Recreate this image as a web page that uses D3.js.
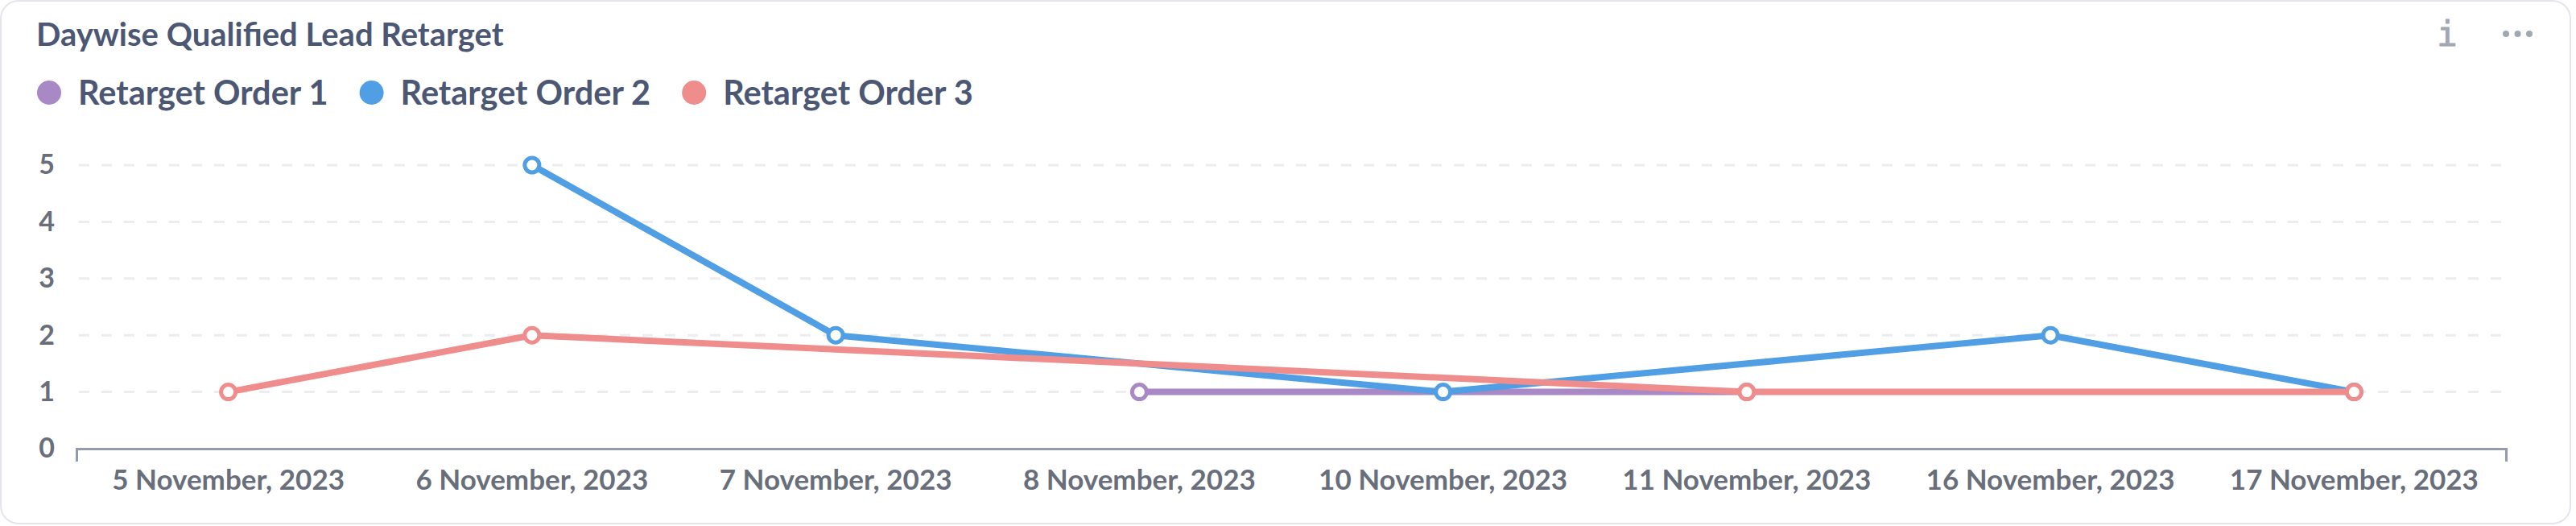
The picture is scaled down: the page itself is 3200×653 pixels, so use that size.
<!DOCTYPE html>
<html>
<head>
<meta charset="utf-8">
<script src="https://cdn.jsdelivr.net/npm/d3@7"></script>
<style>
  html, body { margin: 0; padding: 0; background: #ffffff; }
  svg { display: block; font-family: Lato, "Noto Sans", sans-serif; }
</style>
</head>
<body>
<div id="chart"></div>
<script>
const title = "Daywise Qualified Lead Retarget";
const categories = [
  "5 November, 2023", "6 November, 2023", "7 November, 2023", "8 November, 2023",
  "10 November, 2023", "11 November, 2023", "16 November, 2023", "17 November, 2023"
];
const seriesNames = ["Retarget Order 1", "Retarget Order 2", "Retarget Order 3"];
const seriesColors = ["#A989C5", "#509EE3", "#EF8C8C"];
// null = no row for that day (line just joins the neighbours)
const order1 = [null, null, null, 1, null, 1, null, null];
const order2 = [null, 5, 2, null, 1, null, 2, 1];
const order3 = [1, 2, null, null, null, 1, null, 1];
const yTicks = [0, 1, 2, 3, 4, 5];

const W = 3200, H = 653;
const margin = { left: 95, right: 87, top: 205, bottom: 96 };

const svg = d3.select("#chart").append("svg")
  .attr("width", W)
  .attr("height", H);

// card
svg.append("rect")
  .attr("x", 1).attr("y", 1)
  .attr("width", 3192).attr("height", 649)
  .attr("rx", 22)
  .attr("fill", "#fff")
  .attr("stroke", "#e3e5eb")
  .attr("stroke-width", 2);

svg.append("text")
  .attr("x", 45).attr("y", 57)
  .attr("font-size", 40).attr("font-weight", 700)
  .attr("fill", "#4C5773")
  .text(title);

// info + menu icons
svg.append("text")
  .attr("x", 3040).attr("y", 57)
  .attr("text-anchor", "middle")
  .attr("font-family", "DejaVu Sans Mono, monospace")
  .attr("font-size", 42)
  .attr("fill", "#a1a7b4")
  .attr("stroke", "#a1a7b4")
  .attr("stroke-width", 1)
  .text("i");
svg.append("g").selectAll("circle")
  .data([0, 1, 2])
  .join("circle")
  .attr("cx", d => 3113 + d * 14.5)
  .attr("cy", 42)
  .attr("r", 4)
  .attr("fill", "#a1a7b4");

// legend, laid out left to right from measured text widths
let lx = 61;
seriesNames.forEach((name, i) => {
  const g = svg.append("g").attr("transform", `translate(${lx},115)`);
  g.append("circle")
    .attr("r", 15)
    .attr("fill", seriesColors[i]);
  const t = g.append("text")
    .attr("x", 36).attr("dy", "0.35em")
    .attr("font-size", 41.5).attr("font-weight", 700)
    .attr("fill", "#4C5773")
    .text(name);
  lx += 36 + t.node().getComputedTextLength() + 54;
});

const x = d3.scaleBand()
  .domain(categories)
  .range([margin.left, W - margin.right]);

const y = d3.scaleLinear()
  .domain([0, 5])
  .range([H - margin.bottom, margin.top]);

// grid
svg.append("g").selectAll("line")
  .data(yTicks.filter(d => d > 0))
  .join("line")
  .attr("x1", 98).attr("x2", W - margin.right)
  .attr("y1", d => y(d)).attr("y2", d => y(d))
  .attr("stroke", "#ebedf0")
  .attr("stroke-width", 3)
  .attr("stroke-dasharray", "13 15");

// y labels
const yAxis = svg.append("g")
  .attr("transform", `translate(${margin.left},0)`)
  .call(d3.axisLeft(y).tickValues(yTicks).tickFormat(d3.format("d")).tickSize(0).tickPadding(27));
yAxis.select(".domain").remove();
yAxis.selectAll("text")
  .attr("font-family", "Lato, sans-serif")
  .attr("font-size", 34).attr("font-weight", 700)
  .attr("fill", "#696E7B");

// x axis
const xAxis = svg.append("g")
  .attr("transform", `translate(0,${y(0)})`)
  .call(d3.axisBottom(x).tickSizeInner(0).tickSizeOuter(16).tickPadding(26));
xAxis.select(".domain")
  .attr("stroke", "#949bad")
  .attr("stroke-width", 3);
xAxis.selectAll("text")
  .attr("font-family", "Lato, sans-serif")
  .attr("font-size", 35).attr("font-weight", 700)
  .attr("fill", "#696E7B");

const cx = c => x(c) + x.bandwidth() / 2;
const line = d3.line()
  .x(d => cx(d.cat))
  .y(d => y(d.value));

[order1, order2, order3].forEach((vals, i) => {
  const pts = categories
    .map((cat, j) => ({ cat, value: vals[j] }))
    .filter(d => d.value != null);
  const g = svg.append("g");
  g.append("path")
    .datum(pts)
    .attr("fill", "none")
    .attr("stroke", seriesColors[i])
    .attr("stroke-width", 8)
    .attr("stroke-linejoin", "round")
    .attr("d", line);
  g.selectAll("circle")
    .data(pts)
    .join("circle")
    .attr("cx", d => cx(d.cat))
    .attr("cy", d => y(d.value))
    .attr("r", 9)
    .attr("fill", "#fff")
    .attr("stroke", seriesColors[i])
    .attr("stroke-width", 5);
});
</script>
</body>
</html>
